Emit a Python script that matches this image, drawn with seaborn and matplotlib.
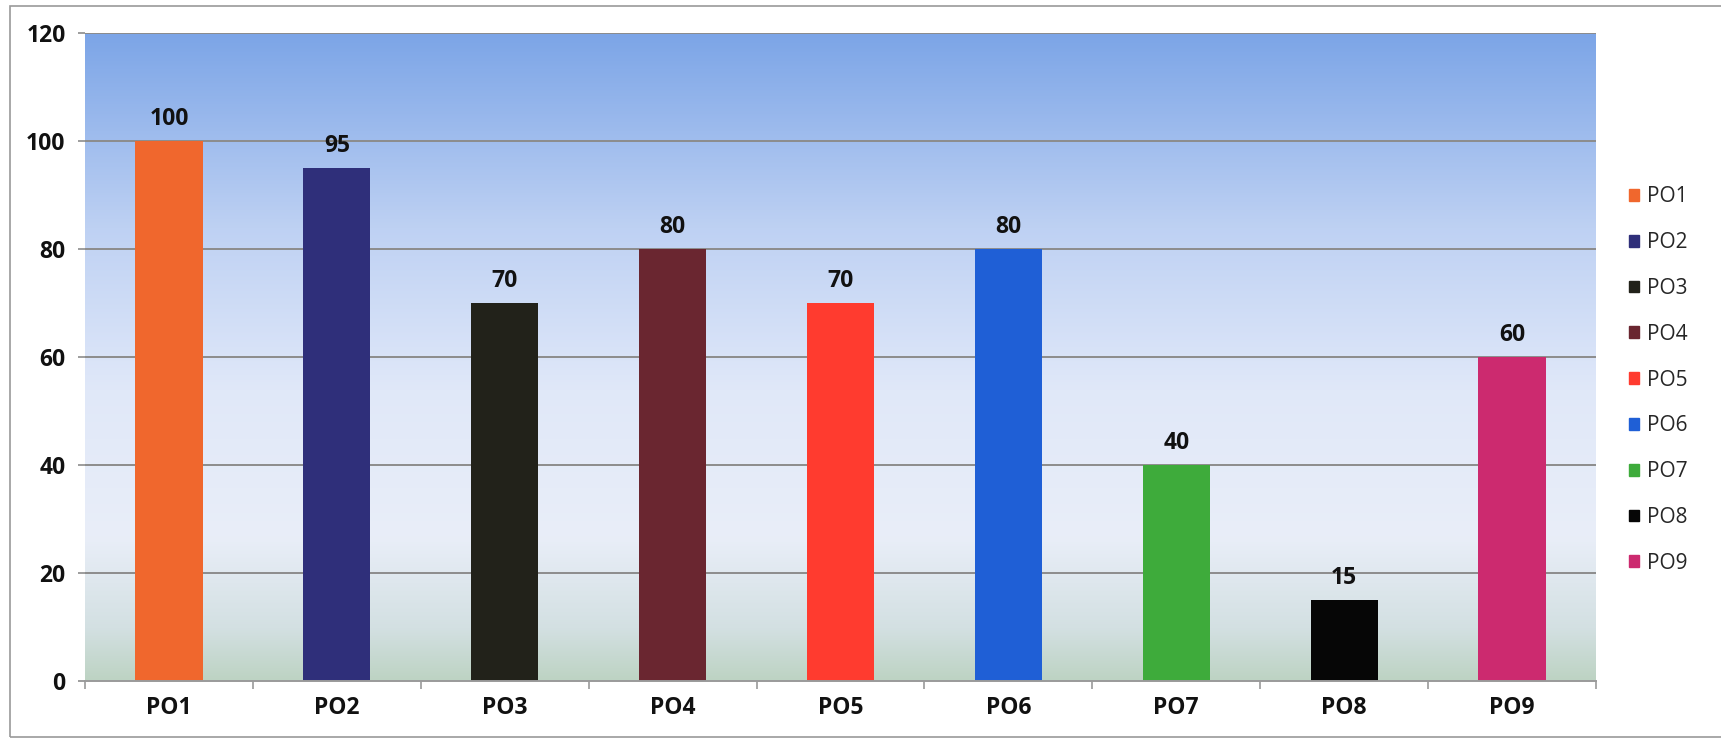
import numpy as np
import pandas as pd
import matplotlib
matplotlib.use("Agg")
import matplotlib.pyplot as plt
import matplotlib.patches as mpatches
from matplotlib.colors import LinearSegmentedColormap
import seaborn as sns

categories = ["PO1", "PO2", "PO3", "PO4", "PO5", "PO6", "PO7", "PO8", "PO9"]
values = [100, 95, 70, 80, 70, 80, 40, 15, 60]
colors = ["#f0672d", "#2f2f7a", "#22221a", "#6a2630", "#ff3b2f", "#1f5fd6", "#3eab3b", "#060606", "#cc2a6f"]
yticks = [0, 20, 40, 60, 80, 100, 120]

sns.set_theme(style="white")
plt.rcParams["font.family"] = ["Open Sans", "DejaVu Sans"]

df = pd.DataFrame({"cat": categories, "val": values})

fig = plt.figure(figsize=(17.21, 7.42), dpi=100)
ax = fig.add_axes([85 / 1721, 1 - 681 / 742, (1596 - 85) / 1721, (681 - 33) / 742])

# gradient background
grad_cmap = LinearSegmentedColormap.from_list(
    "bg",
    [(0.0, "#bdd3c3"), (0.08, "#d3e0e2"), (0.22, "#e9eef8"), (0.45, "#e0e8f9"),
     (0.7, "#bed1f3"), (1.0, "#7ca5e7")])
g = np.linspace(0, 1, 256).reshape(-1, 1)
ax.imshow(g, cmap=grad_cmap, origin="lower", aspect="auto",
          extent=[-0.5, 8.5, 0, 120], zorder=0)

sns.barplot(data=df, x="cat", y="val", hue="cat", palette=colors,
            width=0.4, dodge=False, legend=False, ax=ax, zorder=3,
            saturation=1, linewidth=0)

ax.set_xlim(-0.5, 8.5)
ax.set_ylim(0, 120)
ax.set_yticks(yticks)
ax.set_xlabel("")
ax.set_ylabel("")

for y in yticks[1:]:
    ax.axhline(y, color="#8c8c8c", lw=1.4, zorder=2)

for sp in ["top", "right", "left"]:
    ax.spines[sp].set_visible(False)
ax.spines["bottom"].set_color("#9a9a9a")
ax.spines["bottom"].set_linewidth(1.4)
ax.spines["bottom"].set_zorder(4)

ax.tick_params(axis="y", length=5, width=1.2, color="#8c8c8c", pad=9,
               labelsize=16.5, left=True)
ax.tick_params(axis="x", which="major", length=0, pad=11, labelsize=16.5)
ax.set_xticks(np.arange(-0.5, 9.0, 1.0), minor=True)
ax.tick_params(axis="x", which="minor", length=6, width=1.2, color="#9a9a9a",
               bottom=True)
for lab in ax.get_yticklabels() + ax.get_xticklabels():
    lab.set_fontweight("bold")
    lab.set_color("#111111")

for cont in ax.containers:
    ax.bar_label(cont, fmt="%d", padding=7, fontsize=16.5, fontweight="bold",
                 color="#111111")

handles = [mpatches.Patch(color=c, label=l) for c, l in zip(colors, categories)]
fig.legend(handles=handles, loc="center left", bbox_to_anchor=(1629 / 1721, 1 - 380 / 742),
           frameon=False, fontsize=15, handlelength=0.5, handleheight=0.5,
           handletextpad=0.35, labelspacing=1.19, borderpad=0, borderaxespad=0)

# outer chart border (right edge lies outside the image)
fig.patches.append(mpatches.Rectangle((10 / 1721, 1 - 737 / 742), 1.2, (737 - 6) / 742,
                                      transform=fig.transFigure, fill=False,
                                      edgecolor="#9a9a9a", lw=1.2))

fig.savefig("out.png", dpi=100)
